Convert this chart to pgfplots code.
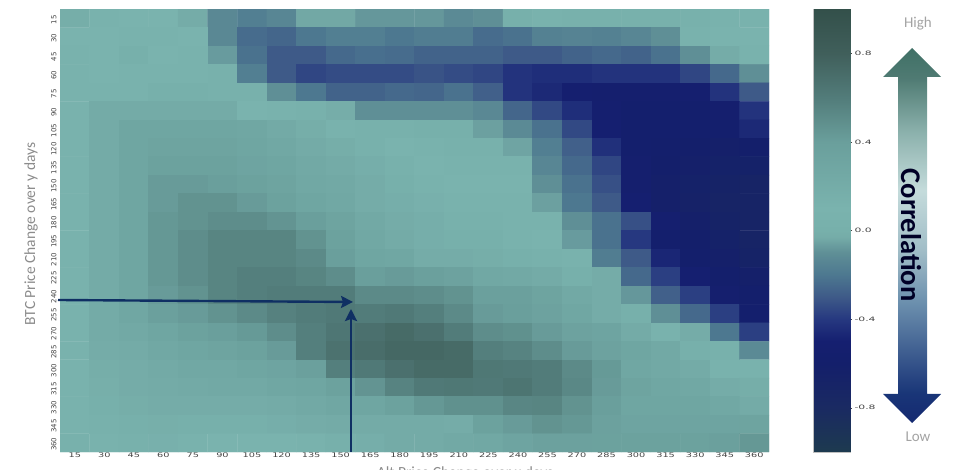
\documentclass[border=0pt]{standalone}
\usepackage{fontspec}
\setmainfont{DejaVu Sans}
\newfontfamily\calfont{Carlito}
\usepackage{pgfplots}
\pgfplotsset{compat=1.18}
\usetikzlibrary{arrows.meta}
\pgfplotsset{colormap={corr}{
rgb255(0pt)=(29,58,79)
rgb255(20pt)=(26,42,98)
rgb255(40pt)=(20,31,107)
rgb255(50pt)=(21,31,112)
rgb255(60pt)=(38,56,128)
rgb255(70pt)=(62,90,136)
rgb255(80pt)=(77,120,144)
rgb255(90pt)=(95,143,150)
rgb255(97pt)=(117,172,168)
rgb255(100pt)=(119,176,171)
rgb255(110pt)=(122,179,174)
rgb255(140pt)=(106,159,156)
rgb255(160pt)=(82,124,122)
rgb255(180pt)=(64,95,91)
rgb255(200pt)=(51,80,74)
}}
\pgfdeclareverticalshading{corrarrow}{100bp}{
rgb(0bp)=(0.08,0.16,0.44);
rgb(25bp)=(0.08,0.16,0.44);
rgb(29bp)=(0.10,0.21,0.47);
rgb(41bp)=(0.42,0.56,0.68);
rgb(48bp)=(0.63,0.74,0.78);
rgb(56bp)=(0.77,0.86,0.86);
rgb(64bp)=(0.54,0.69,0.67);
rgb(71bp)=(0.31,0.48,0.45);
rgb(75bp)=(0.25,0.44,0.40);
rgb(100bp)=(0.25,0.44,0.40)}
\definecolor{navyarrow}{HTML}{0F2F63}
\definecolor{labgray}{HTML}{8C8C8C}
\definecolor{ticktext}{HTML}{444444}
\begin{document}
\begin{tikzpicture}[x=1pt,y=1pt]
\useasboundingbox (0,0) rectangle (960,470);
\begin{axis}[
  at={(60pt,18pt)}, anchor=south west,
  scale only axis, width=709pt, height=443pt,
  xmin=7.5, xmax=367.5, ymin=7.5, ymax=367.5, y dir=reverse,
  axis line style={draw=none},
  tick style={draw=none},
  xtick={15,30,...,360}, ytick={15,30,...,360},
  /pgf/number format/assume math mode=true,
  xticklabel={\scalebox{1.5}[1]{\pgfmathprintnumber{\tick}}},
  every x tick label/.append style={font=\fontsize{6.5}{7}\selectfont, text=ticktext, yshift=3pt},
  every y tick label/.append style={font=\fontsize{7}{8}\selectfont, text=ticktext, rotate=90, anchor=south, xshift=-1.5pt},
  colormap name=corr,
  point meta min=-1, point meta max=1,
]
\addplot[matrix plot*, point meta=explicit, mesh/cols=24] coordinates {
(15,15)[.18] (30,15)[.12] (45,15)[.10] (60,15)[.10] (75,15)[-.03] (90,15)[-.13] (105,15)[-.17] (120,15)[-.14] (135,15)[-.04] (150,15)[-.04] (165,15)[-.08] (180,15)[-.08] (195,15)[-.08] (210,15)[-.12] (225,15)[-.10] (240,15)[0] (255,15)[.08] (270,15)[.03] (285,15)[.03] (300,15)[.05] (315,15)[.05] (330,15)[.05] (345,15)[.08] (360,15)[.08]
(15,30)[.10] (30,30)[.10] (45,30)[.08] (60,30)[.08] (75,30)[.10] (90,30)[-.13] (105,30)[-.24] (120,30)[-.26] (135,30)[-.20] (150,30)[-.17] (165,30)[-.17] (180,30)[-.20] (195,30)[-.18] (210,30)[-.18] (225,30)[-.24] (240,30)[-.22] (255,30)[-.16] (270,30)[-.15] (285,30)[-.16] (300,30)[-.14] (315,30)[-.10] (330,30)[.08] (345,30)[.10] (360,30)[.10]
(15,45)[.12] (30,45)[.10] (45,45)[.15] (60,45)[.10] (75,45)[.06] (90,45)[-.07] (105,45)[-.22] (120,45)[-.30] (135,45)[-.30] (150,45)[-.25] (165,45)[-.23] (180,45)[-.24] (195,45)[-.27] (210,45)[-.27] (225,45)[-.27] (240,45)[-.30] (255,45)[-.30] (270,45)[-.27] (285,45)[-.25] (300,45)[-.27] (315,45)[-.22] (330,45)[-.10] (345,45)[-.03] (360,45)[.08]
(15,60)[.12] (30,60)[.10] (45,60)[.08] (60,60)[.12] (75,60)[.06] (90,60)[.02] (105,60)[-.17] (120,60)[-.30] (135,60)[-.36] (150,60)[-.34] (165,60)[-.34] (180,60)[-.34] (195,60)[-.32] (210,60)[-.34] (225,60)[-.36] (240,60)[-.42] (255,60)[-.44] (270,60)[-.44] (285,60)[-.42] (300,60)[-.42] (315,60)[-.42] (330,60)[-.36] (345,60)[-.25] (360,60)[-.10]
(15,75)[.12] (30,75)[.12] (45,75)[.12] (60,75)[.15] (75,75)[.15] (90,75)[.05] (105,75)[.05] (120,75)[-.10] (135,75)[-.20] (150,75)[-.27] (165,75)[-.27] (180,75)[-.25] (195,75)[-.26] (210,75)[-.22] (225,75)[-.28] (240,75)[-.42] (255,75)[-.46] (270,75)[-.52] (285,75)[-.54] (300,75)[-.54] (315,75)[-.54] (330,75)[-.52] (345,75)[-.42] (360,75)[-.30]
(15,90)[.12] (30,90)[.22] (45,90)[.22] (60,90)[.22] (75,90)[.22] (90,90)[.22] (105,90)[.10] (120,90)[.08] (135,90)[.05] (150,90)[-.02] (165,90)[-.10] (180,90)[-.10] (195,90)[-.10] (210,90)[-.10] (225,90)[-.13] (240,90)[-.26] (255,90)[-.35] (270,90)[-.44] (285,90)[-.52] (300,90)[-.55] (315,90)[-.55] (330,90)[-.55] (345,90)[-.54] (360,90)[-.42]
(15,105)[.12] (30,105)[.22] (45,105)[.30] (60,105)[.30] (75,105)[.30] (90,105)[.30] (105,105)[.28] (120,105)[.24] (135,105)[.18] (150,105)[.12] (165,105)[.05] (180,105)[.03] (195,105)[0] (210,105)[0] (225,105)[-.06] (240,105)[-.12] (255,105)[-.22] (270,105)[-.35] (285,105)[-.50] (300,105)[-.55] (315,105)[-.56] (330,105)[-.56] (345,105)[-.56] (360,105)[-.46]
(15,120)[.12] (30,120)[.22] (45,120)[.30] (60,120)[.33] (75,120)[.33] (90,120)[.33] (105,120)[.30] (120,120)[.27] (135,120)[.22] (150,120)[.18] (165,120)[.13] (180,120)[.10] (195,120)[.08] (210,120)[.05] (225,120)[.05] (240,120)[-.05] (255,120)[-.17] (270,120)[-.28] (285,120)[-.43] (300,120)[-.55] (315,120)[-.58] (330,120)[-.60] (345,120)[-.62] (360,120)[-.60]
(15,135)[.12] (30,135)[.22] (45,135)[.30] (60,135)[.36] (75,135)[.36] (90,135)[.36] (105,135)[.32] (120,135)[.30] (135,135)[.25] (150,135)[.22] (165,135)[.17] (180,135)[.13] (195,135)[.10] (210,135)[.08] (225,135)[.08] (240,135)[.08] (255,135)[-.14] (270,135)[-.25] (285,135)[-.36] (300,135)[-.53] (315,135)[-.60] (330,135)[-.62] (345,135)[-.65] (360,135)[-.65]
(15,150)[.12] (30,150)[.22] (45,150)[.30] (60,150)[.42] (75,150)[.42] (90,150)[.40] (105,150)[.36] (120,150)[.33] (135,150)[.27] (150,150)[.25] (165,150)[.20] (180,150)[.15] (195,150)[.12] (210,150)[.10] (225,150)[.10] (240,150)[.10] (255,150)[-.10] (270,150)[-.22] (285,150)[-.33] (300,150)[-.53] (315,150)[-.62] (330,150)[-.65] (345,150)[-.68] (360,150)[-.70]
(15,165)[.12] (30,165)[.22] (45,165)[.30] (60,165)[.42] (75,165)[.47] (90,165)[.47] (105,165)[.42] (120,165)[.36] (135,165)[.30] (150,165)[.27] (165,165)[.20] (180,165)[.17] (195,165)[.14] (210,165)[.12] (225,165)[.12] (240,165)[.12] (255,165)[-.06] (270,165)[-.20] (285,165)[-.30] (300,165)[-.50] (315,165)[-.62] (330,165)[-.66] (345,165)[-.70] (360,165)[-.70]
(15,180)[.12] (30,180)[.22] (45,180)[.30] (60,180)[.44] (75,180)[.47] (90,180)[.50] (105,180)[.50] (120,180)[.46] (135,180)[.40] (150,180)[.33] (165,180)[.25] (180,180)[.20] (195,180)[.17] (210,180)[.13] (225,180)[.13] (240,180)[.11] (255,180)[.06] (270,180)[-.10] (285,180)[-.22] (300,180)[-.33] (315,180)[-.52] (330,180)[-.62] (345,180)[-.68] (360,180)[-.70]
(15,195)[.12] (30,195)[.22] (45,195)[.30] (60,195)[.44] (75,195)[.50] (90,195)[.55] (105,195)[.55] (120,195)[.55] (135,195)[.47] (150,195)[.36] (165,195)[.27] (180,195)[.22] (195,195)[.17] (210,195)[.15] (225,195)[.15] (240,195)[.12] (255,195)[.10] (270,195)[-.07] (285,195)[-.22] (300,195)[-.40] (315,195)[-.55] (330,195)[-.60] (345,195)[-.65] (360,195)[-.70]
(15,210)[.12] (30,210)[.22] (45,210)[.30] (60,210)[.44] (75,210)[.50] (90,210)[.55] (105,210)[.55] (120,210)[.55] (135,210)[.52] (150,210)[.40] (165,210)[.30] (180,210)[.28] (195,210)[.20] (210,210)[.20] (225,210)[.18] (240,210)[.15] (255,210)[.13] (270,210)[.08] (285,210)[-.18] (300,210)[-.30] (315,210)[-.47] (330,210)[-.58] (345,210)[-.62] (360,210)[-.68]
(15,225)[.12] (30,225)[.22] (45,225)[.30] (60,225)[.44] (75,225)[.50] (90,225)[.55] (105,225)[.58] (120,225)[.58] (135,225)[.55] (150,225)[.50] (165,225)[.40] (180,225)[.42] (195,225)[.38] (210,225)[.35] (225,225)[.27] (240,225)[.25] (255,225)[.22] (270,225)[.15] (285,225)[-.03] (300,225)[-.25] (315,225)[-.38] (330,225)[-.50] (345,225)[-.58] (360,225)[-.62]
(15,240)[.12] (30,240)[.22] (45,240)[.30] (60,240)[.42] (75,240)[.47] (90,240)[.55] (105,240)[.58] (120,240)[.60] (135,240)[.60] (150,240)[.60] (165,240)[.52] (180,240)[.52] (195,240)[.50] (210,240)[.47] (225,240)[.38] (240,240)[.38] (255,240)[.33] (270,240)[.25] (285,240)[.20] (300,240)[-.08] (315,240)[-.28] (330,240)[-.38] (345,240)[-.53] (360,240)[-.58]
(15,255)[.12] (30,255)[.22] (45,255)[.28] (60,255)[.38] (75,255)[.42] (90,255)[.47] (105,255)[.52] (120,255)[.57] (135,255)[.60] (150,255)[.62] (165,255)[.60] (180,255)[.62] (195,255)[.58] (210,255)[.52] (225,255)[.42] (240,255)[.40] (255,255)[.35] (270,255)[.28] (285,255)[.20] (300,255)[.15] (315,255)[-.10] (330,255)[-.25] (345,255)[-.38] (360,255)[-.55]
(15,270)[.12] (30,270)[.22] (45,270)[.25] (60,270)[.30] (75,270)[.36] (90,270)[.40] (105,270)[.43] (120,270)[.50] (135,270)[.58] (150,270)[.64] (165,270)[.68] (180,270)[.72] (195,270)[.68] (210,270)[.60] (225,270)[.50] (240,270)[.48] (255,270)[.42] (270,270)[.35] (285,270)[.32] (300,270)[.22] (315,270)[.12] (330,270)[-.03] (345,270)[-.20] (360,270)[-.38]
(15,285)[.12] (30,285)[.20] (45,285)[.22] (60,285)[.27] (75,285)[.30] (90,285)[.33] (105,285)[.36] (120,285)[.42] (135,285)[.58] (150,285)[.67] (165,285)[.70] (180,285)[.74] (195,285)[.74] (210,285)[.72] (225,285)[.58] (240,285)[.56] (255,285)[.50] (270,285)[.42] (285,285)[.35] (300,285)[.30] (315,285)[.25] (330,285)[.15] (345,285)[.03] (360,285)[-.12]
(15,300)[.12] (30,300)[.18] (45,300)[.20] (60,300)[.23] (75,300)[.26] (90,300)[.27] (105,300)[.30] (120,300)[.32] (135,300)[.38] (150,300)[.58] (165,300)[.62] (180,300)[.68] (195,300)[.72] (210,300)[.72] (225,300)[.63] (240,300)[.62] (255,300)[.60] (270,300)[.52] (285,300)[.43] (300,300)[.28] (315,300)[.25] (330,300)[.22] (345,300)[.12] (360,300)[.12]
(15,315)[.12] (30,315)[.16] (45,315)[.20] (60,315)[.22] (75,315)[.23] (90,315)[.25] (105,315)[.25] (120,315)[.28] (135,315)[.30] (150,315)[.36] (165,315)[.46] (180,315)[.56] (195,315)[.62] (210,315)[.63] (225,315)[.62] (240,315)[.65] (255,315)[.60] (270,315)[.53] (285,315)[.42] (300,315)[.33] (315,315)[.28] (330,315)[.27] (345,315)[.20] (360,315)[.18]
(15,330)[.12] (30,330)[.15] (45,330)[.18] (60,330)[.20] (75,330)[.20] (90,330)[.20] (105,330)[.20] (120,330)[.22] (135,330)[.25] (150,330)[.28] (165,330)[.30] (180,330)[.36] (195,330)[.44] (210,330)[.48] (225,330)[.48] (240,330)[.54] (255,330)[.55] (270,330)[.47] (285,330)[.40] (300,330)[.30] (315,330)[.30] (330,330)[.30] (345,330)[.26] (360,330)[.22]
(15,345)[.12] (30,345)[.13] (45,345)[.15] (60,345)[.16] (75,345)[.15] (90,345)[.15] (105,345)[.15] (120,345)[.17] (135,345)[.20] (150,345)[.22] (165,345)[.22] (180,345)[.22] (195,345)[.22] (210,345)[.20] (225,345)[.36] (240,345)[.42] (255,345)[.47] (270,345)[.44] (285,345)[.37] (300,345)[.32] (315,345)[.32] (330,345)[.32] (345,345)[.32] (360,345)[.33]
(15,360)[.13] (30,360)[.12] (45,360)[.13] (60,360)[.14] (75,360)[.12] (90,360)[.10] (105,360)[.10] (120,360)[.10] (135,360)[.12] (150,360)[.15] (165,360)[.17] (180,360)[.22] (195,360)[.22] (210,360)[.25] (225,360)[.27] (240,360)[.32] (255,360)[.37] (270,360)[.37] (285,360)[.36] (300,360)[.36] (315,360)[.36] (330,360)[.36] (345,360)[.38] (360,360)[.44]
};
\end{axis}
% colour scale
\begin{axis}[
  at={(813.5pt,18pt)}, anchor=south west,
  scale only axis, width=36.5pt, height=443pt,
  xmin=0, xmax=1, ymin=-1, ymax=1,
  xtick=\empty,
  ytick={-0.8,-0.4,0,0.4,0.8},
  yticklabel pos=right,
  axis line style={draw=gray!50, line width=0.3pt},
  ytick style={draw=ticktext, line width=0.3pt},
  major tick length=2pt,
  tick align=outside,
  ytick pos=right,
  view={0}{90},
  colormap name=corr,
  point meta min=-1, point meta max=1,
  /pgf/number format/assume math mode=true,
  yticklabel={\scalebox{1.8}[1]{\pgfmathprintnumber[fixed,fixed zerofill,precision=1]{\tick}}},
  every y tick label/.append style={font=\fontsize{6}{7}\selectfont, text=ticktext, xshift=-1pt},
]
\addplot[surf, shader=interp, point meta=y, mesh/cols=2] coordinates {(0,-1) (1,-1) (0,1) (1,1)};
\end{axis}
% annotation arrows
\draw[navyarrow, line width=2.4pt, -{Stealth[length=12pt,width=12pt,inset=2pt]}] (58,170) -- (353,168);
\draw[navyarrow, line width=2.4pt, -{Stealth[length=12pt,width=12pt,inset=2pt]}] (351,18) -- (351,161);
% axis titles
\node[rotate=90, text=labgray, font=\calfont\fontsize{15.5}{18}\selectfont] at (31,236) {BTC Price Change over y days};
\node[text=labgray, font=\calfont\fontsize{15.5}{18}\selectfont] at (465,-3) {Alt Price Change over x days};
% correlation arrow
\path[shading=corrarrow] (912,422) -- (941,393) -- (927,393) -- (927,76) -- (941,76) -- (912,47) -- (883,76) -- (898,76) -- (898,393) -- (883,393) -- cycle;
\node[rotate=-90, text=black!85!blue, font=\calfont\bfseries\fontsize{28.5}{32}\selectfont] at (911,235) {Correlation};
\node[text=labgray!80, font=\calfont\fontsize{15}{18}\selectfont] at (918,446) {High};
\node[text=labgray!80, font=\calfont\fontsize{15}{18}\selectfont] at (918,33) {Low};
\end{tikzpicture}
\end{document}
